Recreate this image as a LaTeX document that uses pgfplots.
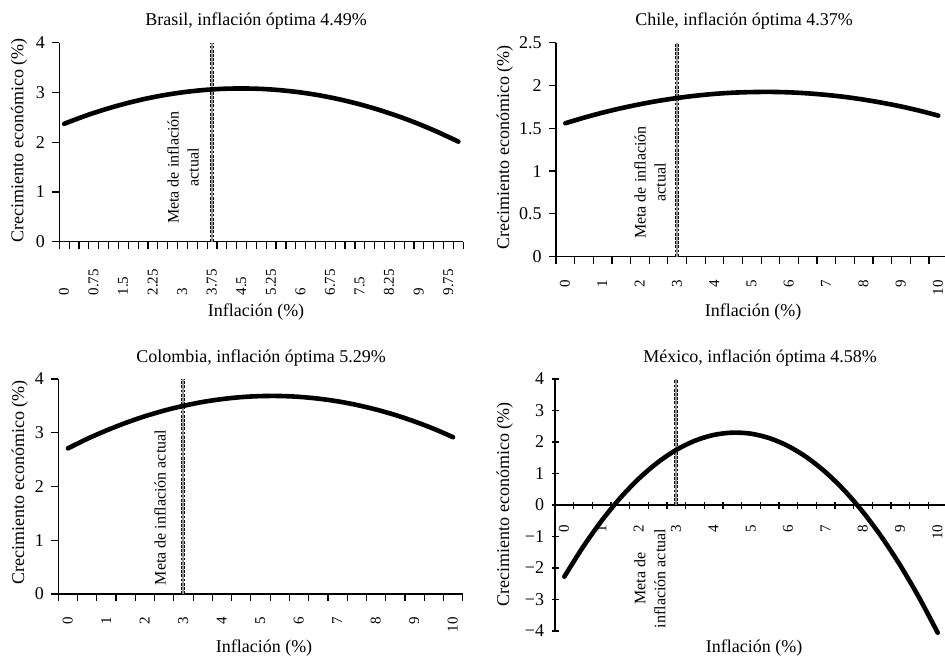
\documentclass[border=0pt]{standalone}
\usepackage{fontspec}
\setmainfont{Liberation Serif}
\usepackage{pgfplots}
\pgfplotsset{compat=1.18}
\definecolor{targetgray}{RGB}{150,150,150}
\pgfplotsset{
  panel/.style={
    scale only axis, clip=false,
    axis lines=left,
    axis line style={line width=0.6pt,-},
    tick style={black, line width=0.6pt},
    tick align=outside,
    major tick length=3.5pt,
    minor tick length=3.5pt,
    major x tick style={draw=none},
    /pgf/number format/assume math mode=true,
    yticklabel style={font=\fontsize{9}{10}\selectfont, inner sep=0pt, anchor=east, xshift=-3.5pt},
  },
  halfstep/.style={
    xmin=-0.25, xmax=10.25,
    xtick={0,1,2,3,4,5,6,7,8,9,10},
    xticklabels={0,1,2,3,4,5,6,7,8,9,10},
    minor xtick={-0.25,0.25,0.75,1.25,1.75,2.25,2.75,3.25,3.75,4.25,4.75,5.25,5.75,6.25,6.75,7.25,7.75,8.25,8.75,9.25,9.75,10.25},
    xticklabel style={yshift=-8pt, rotate=90, anchor=mid east, inner sep=0pt, font=\fontsize{7.5}{8}\selectfont},
  },
  curve/.style={black, line width=2.3pt, line cap=round, smooth, no markers},
  tgtdash/.style={black, dash pattern=on 1.4pt off 0.7pt, line width=2pt, no markers},
  tgtgray/.style={targetgray, line width=1pt, no markers},
}
\begin{document}
\begin{tikzpicture}
\useasboundingbox (0pt,0pt) rectangle (472.5pt,328.5pt);

% ---------- Brasil ----------
\begin{axis}[panel, at={(29.65pt,207.65pt)}, anchor=south west, width=202pt, height=99.5pt,
  xmin=-0.125, xmax=10.125, ymin=0, ymax=4, ytick={0,1,2,3,4},
  xtick={0,0.75,1.5,2.25,3,3.75,4.5,5.25,6,6.75,7.5,8.25,9,9.75},
  xticklabels={0,0.75,1.5,2.25,3,3.75,4.5,5.25,6,6.75,7.5,8.25,9,9.75},
  minor xtick={-0.125,0.125,0.375,0.625,0.875,1.125,1.375,1.625,1.875,2.125,2.375,2.625,2.875,3.125,3.375,3.625,3.875,4.125,4.375,4.625,4.875,5.125,5.375,5.625,5.875,6.125,6.375,6.625,6.875,7.125,7.375,7.625,7.875,8.125,8.375,8.625,8.875,9.125,9.375,9.625,9.875,10.125},
  xticklabel style={yshift=-23.5pt, rotate=90, anchor=mid west, inner sep=0pt, font=\fontsize{7.5}{8}\selectfont}]
\addplot[tgtdash] coordinates {(3.75,0) (3.75,4)};
\addplot[tgtgray] coordinates {(3.75,0) (3.75,4)};
\addplot[curve] coordinates {
(0,2.370) (0.5,2.520) (1,2.651) (1.5,2.765) (2,2.862) (2.5,2.941) (3,3.002) (3.5,3.046)
(4,3.072) (4.5,3.080) (5,3.071) (5.5,3.044) (6,3.000) (6.5,2.938) (7,2.858) (7.5,2.761)
(8,2.646) (8.5,2.514) (9,2.364) (9.5,2.196) (10,2.011)};
\end{axis}

% ---------- Chile ----------
\begin{axis}[panel, halfstep, at={(278pt,200.15pt)}, anchor=south west, width=195.8pt, height=107pt,
  ymin=0, ymax=2.5, ytick={0,0.5,1,1.5,2,2.5}, yticklabels={0,0.5,1,1.5,2,2.5}]
\addplot[tgtdash] coordinates {(3,0) (3,2.5)};
\addplot[tgtgray] coordinates {(3,0) (3,2.5)};
\addplot[curve] coordinates {
(0,1.559) (0.5,1.624) (1,1.683) (1.5,1.735) (2,1.781) (2.5,1.821) (3,1.854) (3.5,1.881)
(4,1.902) (4.5,1.916) (5,1.923) (5.5,1.925) (6,1.920) (6.5,1.908) (7,1.890) (7.5,1.866)
(8,1.835) (8.5,1.798) (9,1.755) (9.5,1.705) (10,1.648)};
\end{axis}

% ---------- Colombia ----------
\begin{axis}[panel, halfstep, at={(29.15pt,31.5pt)}, anchor=south west, width=202.2pt, height=107.5pt,
  ymin=0, ymax=4, ytick={0,1,2,3,4}]
\addplot[tgtdash] coordinates {(3,0) (3,4)};
\addplot[tgtgray] coordinates {(3,0) (3,4)};
\addplot[curve] coordinates {
(0,2.710) (0.5,2.886) (1,3.043) (1.5,3.184) (2,3.307) (2.5,3.413) (3,3.501) (3.5,3.573)
(4,3.626) (4.5,3.663) (5,3.682) (5.5,3.684) (6,3.668) (6.5,3.635) (7,3.585) (7.5,3.517)
(8,3.432) (8.5,3.330) (9,3.210) (9.5,3.073) (10,2.918)};
\end{axis}

% ---------- Mexico ----------
\begin{axis}[panel, halfstep, at={(277.5pt,13pt)}, anchor=south west, width=196pt, height=126pt,
  axis x line=middle, axis y line=left,
  axis line style={line width=0.6pt,-},
  x axis line style={-}, y axis line style={-},
  ymin=-4, ymax=4, ytick={-4,-3,-2,-1,0,1,2,3,4},
  yticklabels={−4,−3,−2,−1,0,1,2,3,4}]
\addplot[tgtdash] coordinates {(3,0) (3,4)};
\addplot[tgtgray] coordinates {(3,0) (3,4)};
\addplot[curve] coordinates {
(0,-2.274) (0.5,-1.332) (1,-0.498) (1.5,0.227) (2,0.843) (2.5,1.351) (3,1.751) (3.5,2.042)
(4,2.224) (4.5,2.298) (5,2.264) (5.5,2.120) (6,1.868) (6.5,1.508) (7,1.039) (7.5,0.462)
(8,-0.224) (8.5,-1.019) (9,-1.922) (9.5,-2.934) (10,-4.054)};
\end{axis}

% ---------- texts ----------
\tikzset{ttl/.style={anchor=base, inner sep=0pt, font=\fontsize{9}{11}\selectfont},
         ann/.style={rotate=90, align=center, inner sep=0pt, font=\fontsize{8}{10}\selectfont}}
\node[ttl] at (128pt,315.5pt) {Brasil, inflación óptima 4.49\%};
\node[ttl] at (372pt,315.5pt) {Chile, inflación óptima 4.37\%};
\node[ttl] at (130.5pt,147.3pt) {Colombia, inflación óptima 5.29\%};
\node[ttl] at (380pt,147.3pt) {México, inflación óptima 4.58\%};

\node[ttl] at (128pt,170pt) {Inflación (\%)};
\node[ttl] at (376.5pt,170pt) {Inflación (\%)};
\node[ttl] at (132pt,2.5pt) {Inflación (\%)};
\node[ttl] at (377pt,2.5pt) {Inflación (\%)};

\node[ttl, rotate=90] at (11.7pt,258.25pt) {Crecimiento económico (\%)};
\node[ttl, rotate=90] at (254.5pt,254.75pt) {Crecimiento económico (\%)};
\node[ttl, rotate=90] at (12pt,87.25pt) {Crecimiento económico (\%)};
\node[ttl, rotate=90] at (254.5pt,76.25pt) {Crecimiento económico (\%)};

\node[ann] at (91.5pt,244.75pt) {Meta de inflación\\actual};
\node[ann] at (325pt,237.25pt) {Meta de inflación\\actual};
\node[ann] at (80pt,74.75pt) {Meta de inflación actual};
\node[ann] at (325pt,39.25pt) {Meta de\\inflación actual};
\end{tikzpicture}
\end{document}
